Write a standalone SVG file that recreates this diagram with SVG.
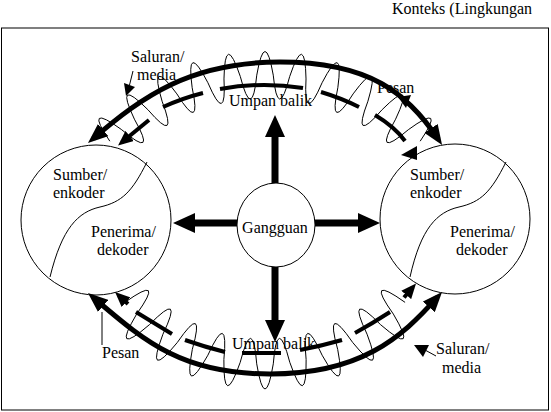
<svg xmlns="http://www.w3.org/2000/svg" width="551" height="412" viewBox="0 0 551 412">
<style>
text{font-family:"Liberation Serif","Times New Roman",serif;font-size:16px;fill:#000}
.node{fill:#fff;stroke:#000;stroke-width:1}
.thin{fill:none;stroke:#000;stroke-width:1}
.arc{fill:none;stroke:#000;stroke-width:5}
.dash{fill:none;stroke:#000;stroke-width:4}
.shaft{fill:none;stroke:#000;stroke-width:7}
.head{fill:#000;stroke:none}
</style>
<defs>
<marker id="ahBig" viewBox="0 0 20 16" refX="13" refY="8" markerWidth="20" markerHeight="16" markerUnits="userSpaceOnUse" orient="auto-start-reverse"><path d="M0,0 L20,8 L0,16 z" fill="#000"/></marker>
<marker id="ahSmall" viewBox="0 0 15 13" refX="10" refY="6.5" markerWidth="15" markerHeight="13" markerUnits="userSpaceOnUse" orient="auto"><path d="M0,0 L15,6.5 L0,13 z" fill="#000"/></marker>
<marker id="ahCenter" viewBox="0 0 22 20" refX="1" refY="10" markerWidth="22" markerHeight="20" markerUnits="userSpaceOnUse" orient="auto"><path d="M0,0 L22,10 L0,20 z" fill="#000"/></marker>
</defs>
<rect width="551" height="412" fill="#fff"/>
<rect id="frame" x="1.5" y="28" width="547" height="382" fill="none" stroke="#000" stroke-width="1"/>
<text id="konteks" x="392" y="14">Konteks (Lingkungan</text>

<g id="sumber-kiri">
<circle class="node" cx="96" cy="220" r="75"/>
<path class="thin" d="M147,162 C132,192 122,202 100,207 C78,212 62,228 50,277"/>
<text x="53" y="180">Sumber/</text>
<text x="53" y="198">enkoder</text>
<text x="91" y="237">Penerima/</text>
<text x="97" y="255">dekoder</text>
</g>

<g id="sumber-kanan">
<circle class="node" cx="455" cy="219" r="75"/>
<path class="thin" d="M506,162 C491,192 481,202 459,207 C437,212 421,228 410,277"/>
<text x="410" y="180">Sumber/</text>
<text x="410" y="198">enkoder</text>
<text x="450" y="237">Penerima/</text>
<text x="456" y="255">dekoder</text>
</g>

<g id="gangguan">
<ellipse class="node" cx="276" cy="225" rx="39" ry="42"/>
<text x="275" y="233" text-anchor="middle">Gangguan</text>
</g>

<g id="labels">
<text x="229" y="106">Umpan balik</text>
<text x="232" y="349">Umpan balik</text>
<text x="131" y="62">Saluran/</text>
<text x="137" y="80">media</text>
<text x="377" y="93">Pesan</text>
<text x="102" y="358">Pesan</text>
<text x="436" y="354">Saluran/</text>
<text x="442" y="373">media</text>
</g>

<g id="connectors">
<!-- thick channel arcs -->
<path class="arc" d="M93.3,138.5 C142.7,96.3 190,62 280,62 C370,62 407.9,93.5 438.2,139.2" marker-start="url(#ahBig)" marker-end="url(#ahBig)"/>
<path class="arc" d="M93.3,297.5 C142.9,339.5 180,374 270,374 C360,374 400.9,338.3 437.4,297.2" marker-start="url(#ahBig)" marker-end="url(#ahBig)"/>

<!-- feedback dashed arcs (top) -->
<path class="dash" d="M149,120 L121.9,142.3" marker-end="url(#ahSmall)"/>
<path class="dash" d="M163,107 Q183,98 203,93"/>
<path class="dash" d="M220,89 Q261,81.5 303,88"/>
<path class="dash" d="M321,92 Q341,98 359,107"/>
<path class="dash" d="M375,115 Q395,127 405,141"/>
<polygon class="head" points="401,155 417,146 417,160"/>

<!-- feedback dashed arcs (bottom) -->
<path class="dash" d="M128,304 L118.7,295.4" marker-end="url(#ahSmall)"/>
<path class="dash" d="M136,312 L172,334"/>
<path class="dash" d="M185,340 Q205,347 225,352"/>
<path class="dash" d="M242,353 L281,353"/>
<path class="dash" d="M300,350 Q321,346 342,340"/>
<path class="dash" d="M355,333 Q373,323 390,312"/>
<path class="dash" d="M404,297.5 L412.75,287.3" marker-end="url(#ahSmall)"/>

<!-- noise waves -->
<path class="thin" d="M109.82,141.19 Q82.86,101.39 121.70,129.72 Q157.79,160.40 134.41,119.20 Q113.86,75.75 147.90,109.69 Q178.88,145.52 162.08,101.23 Q148.42,55.14 176.87,93.89 Q201.99,134.05 192.17,87.71 Q185.72,40.07 207.90,82.72 Q226.59,126.24 223.98,78.95 Q224.89,30.89 240.29,76.43 Q252.10,122.30 256.75,75.16 Q265,27.8 273.25,75.16 Q277.90,122.30 289.71,76.43 Q305.11,30.89 306.02,78.95 Q303.41,126.24 322.10,82.72 Q344.28,40.07 337.83,87.71 Q328.01,134.05 353.13,93.89 Q381.58,55.14 367.92,101.23 Q351.12,145.52 382.10,109.69 Q416.14,75.75 395.59,119.20 Q372.21,160.40 408.30,129.72 Q447.14,101.39 420.18,141.19"/>
<path class="thin" d="M124.92,302.36 Q165.88,273.12 136.64,314.08 Q110.61,357.99 149.34,324.74 Q184.60,288.83 162.91,334.24 Q144.91,382.00 177.27,342.53 Q205.76,301.05 192.29,349.54 Q182.85,399.69 207.87,355.21 Q228.72,309.40 223.88,359.50 Q223.29,410.53 240.20,362.37 Q252.78,313.65 256.71,363.82 Q265,414.18 273.29,363.82 Q277.22,313.65 289.80,362.37 Q306.71,410.53 306.12,359.50 Q301.28,309.40 322.13,355.21 Q347.15,399.69 337.71,349.54 Q324.24,301.05 352.73,342.53 Q385.09,382.00 367.09,334.24 Q345.40,288.83 380.66,324.74 Q419.39,357.99 393.36,314.08 Q364.12,273.12 405.08,302.36"/>

<!-- disturbance arrows -->
<path class="shaft" d="M275,183 L275,136" marker-end="url(#ahCenter)"/>
<path class="shaft" d="M275,267 L275,321" marker-end="url(#ahCenter)"/>
<path class="shaft" d="M237,223 L194,223" marker-end="url(#ahCenter)"/>
<path class="shaft" d="M315,223 L359,223" marker-end="url(#ahCenter)"/>

<!-- label pointers -->
<path class="thin" d="M133,71 L129.5,85"/>
<polygon class="head" points="124,83 135,87 126,96"/>
<polygon class="head" points="398,97 411,95 406,108"/>
<path class="thin" d="M102,345 L102,312"/>
<path class="thin" d="M436,356 L425,350"/>
<polygon class="head" points="414,345 429,345 423,357"/>
</g>
</svg>
